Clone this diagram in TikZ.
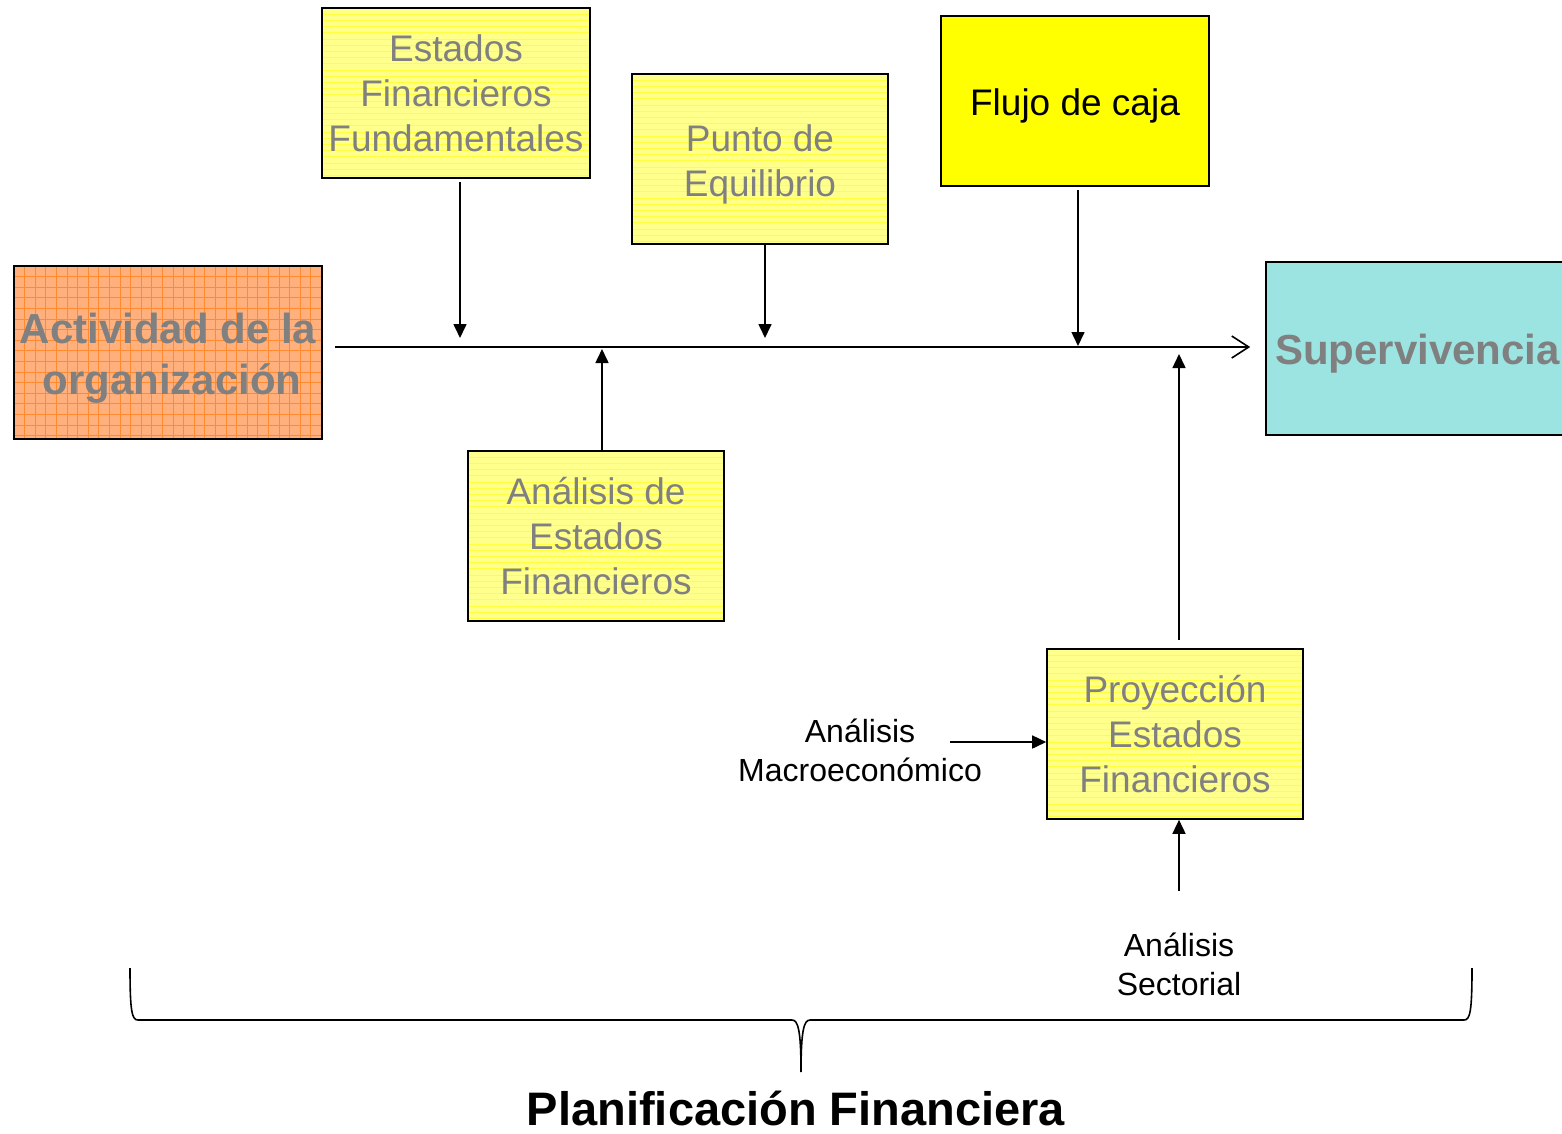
\documentclass[tikz,border=0pt]{standalone}
\usepackage{fontspec}
\setmainfont{Liberation Sans}
\usetikzlibrary{arrows.meta}
\definecolor{txtgray}{HTML}{808080}
\definecolor{yelfill}{HTML}{FFFF8C}
\definecolor{yelline}{HTML}{FFFF40}
\definecolor{orafill}{HTML}{FFB07C}
\definecolor{oraline}{HTML}{FF8A30}
\definecolor{cyanfill}{HTML}{9CE4E2}
\definecolor{yelpure}{HTML}{FFFF00}
\tikzset{
  boxbase/.style={draw=black, line width=1.6pt, inner sep=0pt, align=center},
  yelbox/.style={boxbase, fill=yelfill, text=txtgray,
    font=\fontsize{37}{45}\selectfont,
    minimum width=256pt, minimum height=170pt,
    path picture={\foreach \k in {1,...,28}
      \draw[yelline, line width=0.9pt] ([yshift=-\k*6.2pt]path picture bounding box.north west) -- ([yshift=-\k*6.2pt]path picture bounding box.north east);}},
  orabox/.style={boxbase, fill=orafill,
    minimum width=308pt, minimum height=173pt,
    path picture={\foreach \k in {1,...,30}
      {\draw[oraline, line width=1pt] ([xshift=\k*10.6pt]path picture bounding box.north west) -- ([xshift=\k*10.6pt]path picture bounding box.south west);
       \draw[oraline, line width=1pt] ([yshift=-\k*10.6pt]path picture bounding box.north west) -- ([yshift=-\k*10.6pt]path picture bounding box.north east);}}},
  cyanbox/.style={boxbase, fill=cyanfill,
    minimum width=309pt, minimum height=173pt},
  boldtxt/.style={inner sep=0pt, align=center, text=txtgray, font=\fontsize{42}{51}\bfseries\selectfont},
  graytxt/.style={inner sep=0pt, align=center, text=txtgray, font=\fontsize{37}{45}\selectfont},
  plainlbl/.style={align=center, inner sep=0pt, font=\fontsize{32}{39}\selectfont},
  conn/.style={line width=1.6pt, -{Triangle[length=14pt,width=13pt]}},
  mainconn/.style={line width=1.6pt, -{Straight Barb[length=17pt,width=22pt,line width=1.6pt]}}
}
\begin{document}
\begin{tikzpicture}[x=1pt,y=-1pt]
\useasboundingbox (0,0) rectangle (1562,1133);

\node[yelbox, minimum width=268pt] (efund) at (456,93) {Estados\\Financieros\\Fundamentales};
\node[yelbox] (peq) at (760,159) {};
\node[graytxt] (peqtxt) at ([yshift=-5pt]peq.center) {Punto de\\Equilibrio};
\node[boxbase, fill=yelpure, minimum width=268pt, minimum height=170pt] (flujo) at (1075,101) {};
\node[inner sep=0pt, font=\fontsize{37}{45}\selectfont] (flujotxt) at ([yshift=-5pt]flujo.center) {Flujo de caja};
\node[orabox] (act) at (168,352.5) {};
\node[boldtxt] (acttxt) at ([yshift=-6pt]act.center) {Actividad de la\\\hspace*{8pt}organización};
\node[cyanbox] (sup) at (1420.5,348.5) {};
\node[boldtxt, anchor=west] (suptxt) at (1275,354) {Supervivencia};
\node[yelbox] (anef) at (596,536) {Análisis de\\Estados\\Financieros};
\node[yelbox] (proy) at (1175,734) {Proyección\\Estados\\Financieros};

\node[plainlbl] (macro) at (860,750) {Análisis\\Macroeconómico};
\node[plainlbl] (sect) at (1179,964) {Análisis\\Sectorial};

\coordinate (m1) at (460,338);
\coordinate (m2) at (765,338);
\coordinate (m3) at (1078,346);
\coordinate (u1) at (602,349);
\coordinate (u2) at (1179,354);
\coordinate (macroend) at (950,742);
\coordinate (sectend) at (1179,891);

\draw[mainconn, shorten <=12pt, shorten >=15pt] (act.east |- 0,347) -- (sup.west |- 0,347);

\draw[conn] (460,182) -- (m1);
\draw[conn] (765,243) -- (m2);
\draw[conn] (1078,190) -- (m3);
\draw[conn] (602,450) -- (u1);
\draw[conn] (1179,640) -- (u2);
\draw[conn] (macroend) -- (proy.west |- macroend);
\draw[conn] (sectend) -- (proy.south -| sectend);

\draw[line width=1.6pt] (130,968) .. controls (130,1012) and (132,1020) .. (138,1020)
  -- (792,1020) .. controls (798,1020) and (801,1030) .. (801,1072)
  .. controls (801,1030) and (804,1020) .. (810,1020)
  -- (1464,1020) .. controls (1470,1020) and (1472,1012) .. (1472,968);

\node[inner sep=0pt, font=\fontsize{47}{56}\bfseries\selectfont] (plan) at (796,1108) {Planificación Financiera};
\end{tikzpicture}
\end{document}
